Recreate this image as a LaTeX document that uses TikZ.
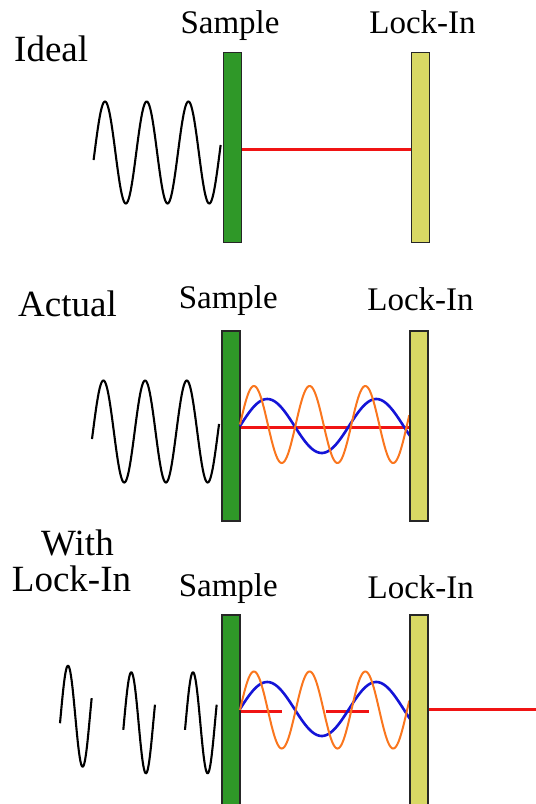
\documentclass[tikz,border=0pt]{standalone}
\usepackage{fontspec}
\setmainfont{Liberation Serif}
\definecolor{sgreen}{RGB}{47,152,40}
\definecolor{lyellow}{RGB}{216,216,100}
\definecolor{sred}{RGB}{240,20,20}
\definecolor{sblue}{RGB}{20,20,215}
\definecolor{sorange}{RGB}{250,118,30}
\begin{document}
\begin{tikzpicture}[x=1pt,y=-1pt,
  bar/.style={draw=black!85, line width=1.3pt, inner sep=0pt, minimum width=18pt},
  samplebar/.style={bar, fill=sgreen},
  lockbar/.style={bar, fill=lyellow},
  lab/.style={anchor=base, inner sep=0pt, font=\fontsize{33}{40}\selectfont},
  biglab/.style={anchor=base, inner sep=0pt, font=\fontsize{37}{44}\selectfont},
  sig/.style={line width=2.1pt, black, line join=round},
  redline/.style={line width=3pt, sred},
  bluewave/.style={line width=2.6pt, sblue},
  orangewave/.style={line width=2pt, sorange},
]
\useasboundingbox (0,0) rectangle (536,804);

% ---------------- Panel 1: Ideal ----------------
\node[biglab, anchor=base west] (t1) at (14,61.7) {Ideal};
\node[lab] (ts1) at (230,33.3) {Sample};
\node[lab] (tl1) at (422.5,33.3) {Lock-In};
\draw[sig] plot[domain=-8.5:1088.5, samples=220, smooth] ({105+(\x-90)*0.115833}, {152.5-51*sin(\x)});
\node[samplebar, minimum height=190pt] (s1) at (232.5,147.3) {};
\node[lockbar, minimum height=190pt] (l1) at (420.8,147.3) {};
\coordinate (r1) at (0,149);
\draw[redline] (s1.east |- r1) -- (l1.west |- r1);

% ---------------- Panel 2: Actual ----------------
\node[biglab, anchor=base west] (t2) at (18,316.7) {Actual};
\node[lab] (ts2) at (228.3,308.3) {Sample};
\node[lab] (tl2) at (420.5,310) {Lock-In};
\draw[sig] plot[domain=-8.5:1088.5, samples=220, smooth] ({103.4+(\x-90)*0.115833}, {431.5-51*sin(\x)});
\coordinate (r2) at (0,427.7);
\node[samplebar, minimum height=190pt] (s2) at (230.85,426) {};
\node[lockbar, minimum height=190pt] (l2) at (419,426) {};
\draw[redline] (s2.east |- r2) -- (l2.west |- r2);
\draw[bluewave] plot[domain=0:562, samples=120, smooth] ({240+\x*0.302778}, {426-27*sin(\x)});
\draw[orangewave] plot[domain=0:1094, samples=220, smooth] ({240+\x*0.154722}, {424.5-38.5*sin(\x)});
\node[lockbar, minimum height=190pt] at (l2) {};

% ---------------- Panel 3: With Lock-In ----------------
\node[biglab] (t3a) at (77.5,555) {With};
\node[biglab] (t3b) at (71.5,591.7) {Lock-In};
\node[lab] (ts3) at (228.3,596.7) {Sample};
\node[lab] (tl3) at (420.8,598.3) {Lock-In};
\draw[sig] plot[domain=-8:381, samples=60, smooth] ({60.65+\x*0.081389}, {716.2-50.5*sin(\x)});
\draw[sig] plot[domain=-8:381, samples=60, smooth] ({123.95+\x*0.081389}, {722.8-50.5*sin(\x)});
\draw[sig] plot[domain=-8:381, samples=60, smooth] ({185.65+\x*0.081389}, {722.8-50.5*sin(\x)});
\node[samplebar, minimum height=200pt] (s3) at (230.85,715) {};
\node[lockbar, minimum height=200pt] (l3) at (419,715) {};
\coordinate (r3a) at (281.7,711.7);
\coordinate (r3b) at (326,711.7);
\coordinate (r3c) at (369.3,711.7);
\coordinate (out) at (536,709.3);
\draw[redline] (s3.east |- r3a) -- (r3a);
\draw[redline] (r3b) -- (r3c);
\draw[bluewave] plot[domain=0:562, samples=120, smooth] ({240+\x*0.302778}, {709-27*sin(\x)});
\draw[orangewave] plot[domain=0:1094, samples=220, smooth] ({240+\x*0.154722}, {710-38.5*sin(\x)});
\node[lockbar, minimum height=200pt] at (l3) {};
\draw[redline] (l3.east |- out) -- (out);
\end{tikzpicture}
\end{document}
